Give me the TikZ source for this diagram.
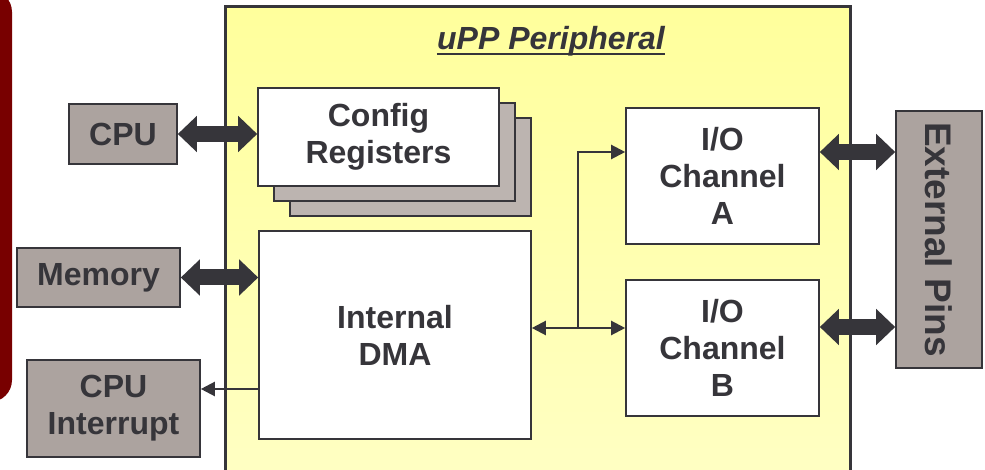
\documentclass[tikz,border=0pt]{standalone}
\usepackage{fontspec}
\setmainfont{Liberation Sans}
\usepackage{graphicx}
\usetikzlibrary{arrows.meta}
\definecolor{ink}{HTML}{36353A}
\definecolor{boxgray}{HTML}{ACA39F}
\definecolor{shadgray}{HTML}{BCB4B0}
\definecolor{darkred}{HTML}{780000}
\definecolor{ylwtop}{HTML}{FFFF9C}
\definecolor{ylwbot}{HTML}{FFFFC4}
\begin{document}
\begin{tikzpicture}[x=1pt,y=-1pt,
  lbl/.style={font=\fontsize{32}{37}\selectfont\bfseries, text=ink, align=center},
  graybox/.style={lbl, draw=ink, line width=1.6pt, fill=boxgray, inner sep=0pt},
  whitebox/.style={lbl, draw=ink, line width=1.6pt, fill=white, inner sep=0pt},
  shadbox/.style={draw=ink, line width=1.6pt, fill=shadgray, minimum width=241pt, minimum height=98pt, inner sep=0pt},
  fatarrow/.style={draw=ink, line width=16pt, {Triangle[length=19pt,width=35pt]}-{Triangle[length=19pt,width=35pt]}},
  thinarrow/.style={draw=ink, line width=2.2pt, -{Triangle[length=14pt,width=14pt]}},
  thinboth/.style={draw=ink, line width=2.2pt, {Triangle[length=14pt,width=14pt]}-{Triangle[length=14pt,width=14pt]}},
]
\useasboundingbox (0,0) rectangle (985,470);
\clip (0,0) rectangle (985,470);
\fill[white] (0,0) rectangle (985,470);

% dark red side shape
\fill[darkred, rounded corners=22pt] (-40,-10) rectangle (12,402);

% main peripheral box
\shade[top color=ylwtop, bottom color=ylwbot] (225,7) rectangle (850,490);
\draw[ink, line width=3pt] (225,490) -- (225,7) -- (850,7) -- (850,490);

% title
\node[font=\fontsize{32}{38}\selectfont\bfseries\itshape, text=ink, inner sep=0pt, anchor=base] (title) at (551,50) {uPP Peripheral};
\draw[ink, line width=2pt] ([yshift=-4pt]title.base west) -- ([yshift=-4pt]title.base east);

% config registers stack
\node[shadbox] (cfg2) at (410.5,167) {};
\node[shadbox] (cfg1) at (394.5,152) {};
\node[whitebox, minimum width=241pt, minimum height=98pt] (cfg) at (378.5,137) {Config\\Registers};

% internal blocks
\node[whitebox, minimum width=272pt, minimum height=208pt] (dma) at (395,335) {Internal\\DMA};
\node[whitebox, minimum width=193pt, minimum height=136pt] (ioa) at (722.5,176) {I/O\\Channel\\A};
\node[whitebox, minimum width=193pt, minimum height=136pt] (iob) at (722.5,348) {I/O\\Channel\\B};

% external blocks
\node[graybox, minimum width=108pt, minimum height=60pt] (cpu) at (123,134) {CPU};
\node[graybox, minimum width=163pt, minimum height=59pt] (mem) at (98.5,277.5) {Memory};
\node[graybox, minimum width=173pt, minimum height=97pt] (int) at (113.5,408.5) {CPU\\Interrupt};
\node[graybox, minimum width=86pt, minimum height=257pt, font=\fontsize{37}{44}\selectfont\bfseries] (ext) at (939,239.5) {\rotatebox{-90}{External Pins}};

% fat bidirectional arrows
\draw[fatarrow] (cpu.east) -- (cpu.east -| cfg.west);
\draw[fatarrow] (mem.east) -- (mem.east -| dma.west);
\draw[fatarrow] (ioa.east |- 0,152) -- (ext.west |- 0,152);
\draw[fatarrow] (iob.east |- 0,327) -- (ext.west |- 0,327);

% thin arrows
\draw[thinarrow] (dma.west |- 0,389) -- (int.east |- 0,389);
\coordinate (br) at (578,328);
\draw[thinboth] (dma.east |- br) -- (iob.west |- br);
\draw[thinarrow] (br) -- (578,152) -- (ioa.west |- 0,152);
\end{tikzpicture}
\end{document}
